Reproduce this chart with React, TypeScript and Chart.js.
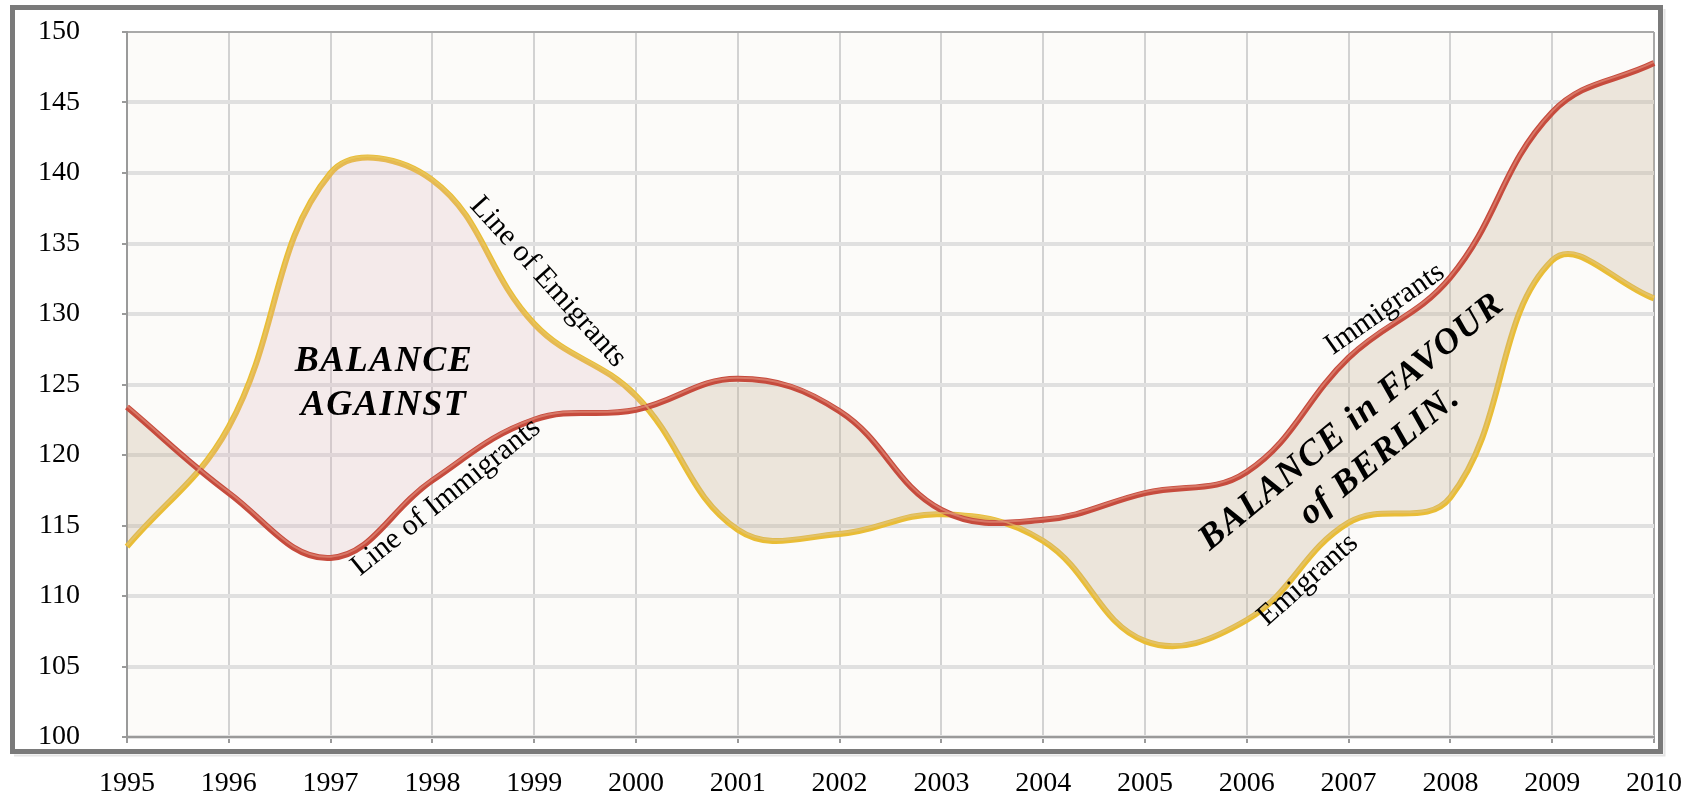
import React, { useEffect, useRef } from "react";
import { Chart, registerables } from "chart.js";

Chart.register(...registerables);

const years = ["1995","1996","1997","1998","1999","2000","2001","2002","2003","2004","2005","2006","2007","2008","2009","2010"];
const immigrants = [123.4, 117.3, 112.7, 118.2, 122.5, 123.2, 125.4, 123.1, 116.1, 115.4, 117.3, 118.8, 126.9, 132.6, 144.3, 147.8];
const emigrants = [113.5, 122.0, 140.0, 139.5, 129.3, 124.2, 114.7, 114.4, 115.8, 113.9, 106.8, 108.3, 115.2, 117.0, 133.8, 131.1];
const yMin = 100;
const yMax = 150;
const yStep = 5;

// annotation layout (x in category index units, y in value units)
const notes = [
  { text: ["Line of Emigrants"], x: 4.135, y: 132.27, angle: 48, bold: false },
  { text: ["Line of Immigrants"], x: 3.134, y: 117.0, angle: -38.8, bold: false },
  { text: ["BALANCE", "AGAINST"], x: 2.525, y: 125.04, angle: 0, bold: true },
  { text: ["Immigrants"], x: 12.357, y: 130.35, angle: -35, bold: false },
  { text: ["Emigrants"], x: 11.6, y: 111.13, angle: -41.5, bold: false },
  { text: ["BALANCE in FAVOUR", "of BERLIN."], x: 12.17, y: 121.13, angle: -39.5, bold: true },
];

const SERIF = '"Liberation Serif", "DejaVu Serif", serif';

const framePlugin = {
  id: "frame",
  beforeDraw(chart: any) {
    const { ctx, chartArea } = chart;
    ctx.save();
    ctx.fillStyle = "#ffffff";
    ctx.fillRect(0, 0, chart.width, chart.height);
    ctx.strokeStyle = "#e4e4e4";
    ctx.lineWidth = 2;
    ctx.beginPath();
    ctx.moveTo(1664.5, 9);
    ctx.lineTo(1664.5, 755.5);
    ctx.lineTo(14, 755.5);
    ctx.stroke();
    ctx.strokeStyle = "#7a7a7a";
    ctx.lineWidth = 5;
    ctx.strokeRect(12.5, 7.5, 1648, 744);
    ctx.fillStyle = "#fcfbf9";
    ctx.fillRect(chartArea.left, chartArea.top, chartArea.right - chartArea.left, chartArea.bottom - chartArea.top);
    ctx.restore();
  },
  beforeDatasetDraw(chart: any, args: any) {
    if (args.index >= 2) {
      chart.ctx.save();
      chart.ctx.translate(0, -1.2);
    }
  },
  afterDatasetDraw(chart: any, args: any) {
    if (args.index >= 2) chart.ctx.restore();
  },
  afterDatasetsDraw(chart: any) {
    const { ctx } = chart;
    const xs = chart.scales.x;
    const ys = chart.scales.y;
    const x0 = xs.getPixelForValue(0);
    const x1 = xs.getPixelForValue(1);
    ctx.save();
    ctx.fillStyle = "#000";
    ctx.textAlign = "center";
    ctx.textBaseline = "middle";
    for (const n of notes) {
      const px = x0 + (x1 - x0) * n.x;
      const py = ys.getPixelForValue(n.y);
      ctx.save();
      ctx.translate(px, py);
      ctx.rotate((n.angle * Math.PI) / 180);
      if (n.bold) {
        ctx.font = `italic bold 36px ${SERIF}`;
        (ctx as any).letterSpacing = "1.5px";
      } else {
        ctx.font = `30px ${SERIF}`;
        (ctx as any).letterSpacing = "0px";
      }
      const lh = n.bold ? 44 : 30;
      const start = -((n.text.length - 1) * lh) / 2;
      n.text.forEach((t, i) => ctx.fillText(t, 0, start + i * lh));
      ctx.restore();
    }
    ctx.restore();
  },
};

export default function App() {
  const ref = useRef<HTMLCanvasElement | null>(null);
  useEffect(() => {
    if (!ref.current) return;
    const chart = new Chart(ref.current, {
      type: "line",
      data: {
        labels: years,
        datasets: [
          {
            label: "Immigrants",
            data: immigrants,
            borderColor: "#c64b3d",
            borderWidth: 6,
            pointRadius: 0,
            tension: 0.4,
            order: 1,
            fill: { target: 1, above: "rgba(199,178,149,0.30)", below: "rgba(217,171,184,0.22)" },
          },
          {
            label: "Emigrants",
            data: emigrants,
            borderColor: "#e9bd36",
            borderWidth: 6,
            pointRadius: 0,
            tension: 0.4,
            order: 1,
            fill: false,
          },
          {
            label: "Immigrants highlight",
            data: immigrants,
            borderColor: "rgba(222,135,118,0.75)",
            borderWidth: 2,
            pointRadius: 0,
            tension: 0.4,
            order: 0,
            fill: false,
          },
          {
            label: "Emigrants highlight",
            data: emigrants,
            borderColor: "rgba(232,200,115,0.6)",
            borderWidth: 2,
            pointRadius: 0,
            tension: 0.4,
            order: 0,
            fill: false,
          },
        ],
      },
      options: {
        animation: false,
        responsive: false,
        devicePixelRatio: 1,
        layout: { padding: { top: 32, right: 47, left: 0, bottom: 0 } },
        plugins: { legend: { display: false }, tooltip: { enabled: false } },
        scales: {
          x: {
            type: "category",
            offset: false,
            afterFit: (s: any) => { s.height = 62; s.paddingLeft = 0; s.paddingRight = 0; },
            grid: {
              color: (c: any) => (c.index === 0 || c.index === years.length - 1 ? "#a9a9a9" : "#d2d2d2"),
              lineWidth: 2,
              tickLength: 6,
              tickColor: "#9a9a9a",
              tickWidth: 2,
            },
            border: { color: "#9a9a9a", width: 2 },
            ticks: { color: "#000", font: { family: SERIF, size: 28 }, padding: 24, maxRotation: 0, autoSkip: false },
          },
          y: {
            min: yMin,
            max: yMax,
            afterFit: (s: any) => { s.width = 127; s.paddingTop = 0; s.paddingBottom = 0; },
            grid: {
              color: (c: any) => (c.tick && (c.tick.value === yMax) ? "#a9a9a9" : "#e0e0e0"),
              lineWidth: (c: any) => (c.tick && (c.tick.value === yMax) ? 2 : 4),
              tickLength: 5,
              tickColor: "#9a9a9a",
              tickWidth: 2,
            },
            border: { color: "#9a9a9a", width: 2 },
            ticks: { stepSize: yStep, color: "#000", font: { family: SERIF, size: 28 }, padding: 42 },
          },
        },
      },
      plugins: [framePlugin],
    });
    return () => chart.destroy();
  }, []);
  return (
    <div style={{ position: "absolute", left: 0, top: 0, width: 1701, height: 799 }}>
      <canvas ref={ref} width={1701} height={799} />
    </div>
  );
}
